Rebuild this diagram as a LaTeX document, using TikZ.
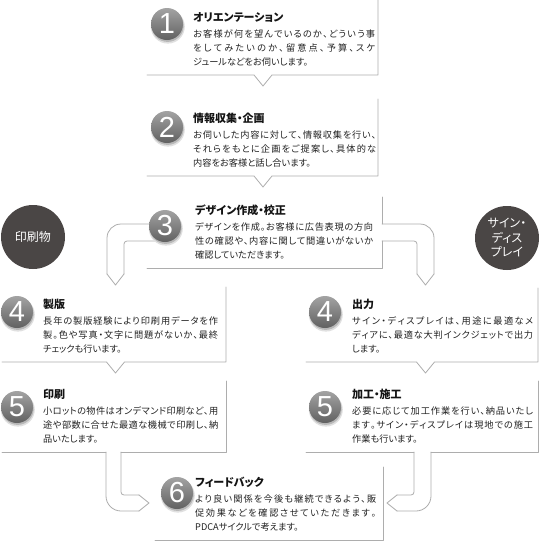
\documentclass[tikz,border=0pt]{standalone}
\usepackage{fontspec}
\setmainfont{Liberation Sans}
\newfontfamily\jp{Noto Sans CJK JP}[RawFeature=+palt]
\newfontfamily\numf{Liberation Sans}
\definecolor{lg}{HTML}{ADADAD}
\definecolor{ttlc}{HTML}{141414}
\definecolor{bdyc}{HTML}{222222}
\definecolor{darkc}{HTML}{4A4645}
\def\sprend{}
\newcommand\spr[1]{\sprA#1\sprend}
\def\sprA#1{#1\sprB}
\def\sprB#1{\ifx#1\sprend\else\hskip0pt plus 1fil minus 0.8pt\relax#1\expandafter\sprB\fi}
\newcommand\jline[2]{\makebox[#1pt][s]{\spr{#2}}}
\tikzset{
  ln/.style={draw=lg, line width=0.8pt, line cap=round, line join=round},
  ttl/.style={font=\jp\bfseries\fontsize{11}{13}\selectfont, text=ttlc, anchor=base west, inner sep=0pt},
  bdy/.style={font=\jp\fontsize{9.2}{14}\selectfont, text=bdyc, anchor=base west, inner sep=0pt},
  num/.style={font=\numf\fontsize{29}{29}\selectfont, text=white, inner sep=0pt},
  darkcirc/.style={circle, fill=darkc, text=white, minimum size=64pt, inner sep=0pt, align=center, font=\jp\fontsize{12}{14.5}\selectfont}
}
% name, x, bottom, width, title, l1, l2, l3
\newcommand\blk[8]{%
  \node[ttl] (#1t) at (#2,{#3-54}) {#5};
  \node[bdy] (#1a) at (#2,{#3-38}) {\jline{#4}{#6}};
  \node[bdy] (#1b) at (#2,{#3-24}) {\jline{#4}{#7}};
  \node[bdy] (#1c) at (#2,{#3-10}) {#8};
}
% name, x, y, digit
\newcommand\numc[4]{%
  \fill[black!12] ({#2+0.8},{#3+2.6}) circle (17pt);
  \fill[black!28] ({#2+0.6},{#3+1.8}) circle (16.1pt);
  \shade[top color=black!36, bottom color=black!62] (#2,#3) circle (16pt);
  \node[num] (#1) at (#2,#3) {#4};
}
\begin{document}
\begin{tikzpicture}[x=1pt,y=-1pt]
\useasboundingbox (0,0) rectangle (540,552);
\fill[white] (0,0) rectangle (540,552);

% Box 1
\draw[ln] (378,0) -- (378,75) -- (272,75) -- (263,86) -- (254,75) -- (147,75);
% Box 2
\draw[ln] (378,99) -- (378,176) -- (272,176) -- (263,187) -- (254,176) -- (147,176);
% Box 3
\draw[ln] (382,197) -- (382,224);
\draw[ln] (382,241) -- (382,268) -- (147,268);
% left tube from box 3
\draw[ln, rounded corners=14pt] (165,224) -- (107,224) -- (107,274);
\draw[ln] (107,274) -- (115.5,285) -- (124,274);
\draw[ln, rounded corners=3pt] (124,274) -- (124,241) -- (165,241);
% right tube from box 3
\draw[ln, rounded corners=14pt] (382,224) -- (434,224) -- (434,274);
\draw[ln] (434,274) -- (425.5,285) -- (417,274);
\draw[ln, rounded corners=3pt] (417,274) -- (417,241) -- (382,241);

% Box 4 left / right
\draw[ln] (226,287) -- (226,362) -- (124.5,362) -- (115.5,373) -- (106.5,362) -- (2,362);
\draw[ln] (538,288) -- (538,362) -- (434.5,362) -- (425.5,373) -- (416.5,362) -- (306,362);

% Box 5 left / right
\draw[ln] (226,381) -- (226,452) -- (121,452);
\draw[ln] (106,452) -- (2,452);
\draw[ln] (538,381) -- (538,452) -- (431,452);
\draw[ln] (414,452) -- (306,452);

% bottom left tube
\draw[ln, rounded corners=15pt] (106,452) -- (106,511) -- (139,511);
\draw[ln] (139,511) -- (149,503) -- (139,495);
\draw[ln, rounded corners=3pt] (139,495) -- (121,495) -- (121,452);
% bottom right tube
\draw[ln, rounded corners=15pt] (431,452) -- (431,511) -- (397,511);
\draw[ln] (397,511) -- (387,503) -- (397,495);
\draw[ln, rounded corners=3pt] (397,495) -- (414,495) -- (414,452);

% Box 6
\draw[ln] (383,467) -- (383,540) -- (155,540);

% number circles
\numc{n1}{167}{24}{1}
\numc{n2}{167}{127}{2}
\numc{n3}{165}{226}{3}
\numc{n4l}{17}{312}{4}
\numc{n4r}{325}{312}{4}
\numc{n5l}{17}{407}{5}
\numc{n5r}{325}{407}{5}
\numc{n6}{177}{493}{6}

% category circles
\node[darkcirc] (cp) at (33,237) {印刷物};
\node[darkcirc] (cs) at (507,238) {サイン・\\ディス\\プレイ};

% texts
\blk{b1}{193}{75}{182}{オリエンテーション}{お客様が何を望んでいるのか、どういう事}{をしてみたいのか、留意点、予算、スケ}{ジュールなどをお伺いします。}
\blk{b2}{193}{176}{183}{情報収集・企画}{お伺いした内容に対して、情報収集を行い、}{それらをもとに企画をご提案し、具体的な}{内容をお客様と話し合います。}
\blk{b3}{195}{268}{178}{デザイン作成・校正}{デザインを作成。お客様に広告表現の方向}{性の確認や、内容に関して間違いがないか}{確認していただきます。}
\blk{b4l}{43}{362}{175}{製版}{長年の製版経験により印刷用データを作}{製。色や写真・文字に問題がないか、最終}{チェックも行います。}
\blk{b4r}{352}{362}{181}{出力}{サイン・ディスプレイは、用途に最適なメ}{ディアに、最適な大判インクジェットで出力}{します。}
\blk{b5l}{43}{452}{175}{印刷}{小ロットの物件はオンデマンド印刷など、用}{途や部数に合せた最適な機械で印刷し、納}{品いたします。}
\blk{b5r}{352}{452}{181}{加工・施工}{必要に応じて加工作業を行い、納品いたし}{ます。サイン・ディスプレイは現地での施工}{作業も行います。}
\blk{b6}{195}{540}{181}{フィードバック}{より良い関係を今後も継続できるよう、販}{促効果などを確認させていただきます。}{PDCAサイクルで考えます。}
\end{tikzpicture}
\end{document}
